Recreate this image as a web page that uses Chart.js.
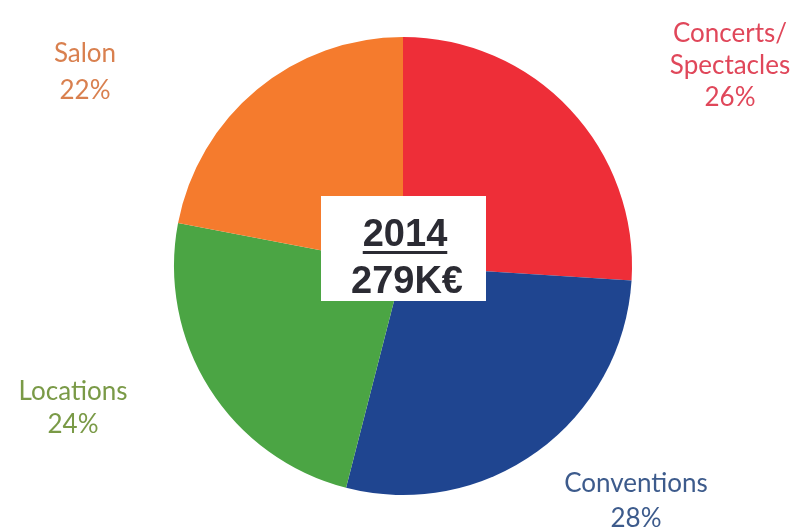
<!DOCTYPE html>
<html>
<head>
<meta charset="utf-8">
<script src="https://cdn.jsdelivr.net/npm/chart.js@4/dist/chart.umd.min.js"></script>
<style>
  html, body { margin: 0; padding: 0; background: #ffffff; }
  #wrap { width: 802px; height: 529px; position: relative; }
</style>
</head>
<body>
<div id="wrap"><canvas id="c" width="802" height="529"></canvas></div>
<script>
// Répartition du chiffre d'affaires 2014 par activité (en %)
const categories = [['Concerts/', 'Spectacles'], ['Conventions'], ['Locations'], ['Salon']];
const shares = [26, 28, 24, 22];
const sliceColors = ['#ee2e38', '#1f4590', '#4ba544', '#f57b2d'];
const labelColors = ['#e0475a', '#3d5b8c', '#7a9a47', '#d9804f'];
// Ancrage (centre, ligne de base de la 1re ligne, interligne) de chaque étiquette
const labelAnchors = [[730, 42, 32], [636, 492, 35], [73, 400, 33], [85, 62, 37]];
const yearLabel = '2014';
const totalLabel = '279K€';

const outerLabels = {
  id: 'outerLabels',
  afterDatasetsDraw(chart) {
    const ctx = chart.ctx;
    const ds = chart.data.datasets[0];
    ctx.save();
    ctx.textAlign = 'center';
    ctx.textBaseline = 'alphabetic';
    ctx.font = '26px Lato, "Open Sans", sans-serif';
    ds.data.forEach((v, i) => {
      const lines = chart.data.labels[i].concat([v + '%']);
      const [x, y, lh] = labelAnchors[i];
      ctx.fillStyle = labelColors[i];
      lines.forEach((t, k) => ctx.fillText(t, x, y + k * lh));
    });
    ctx.restore();
  }
};

const centerBox = {
  id: 'centerBox',
  afterDatasetsDraw(chart) {
    const ctx = chart.ctx;
    const arc = chart.getDatasetMeta(0).data[0];
    const cx = arc.x, cy = arc.y;
    ctx.save();
    ctx.fillStyle = '#ffffff';
    ctx.fillRect(cx - 82, cy - 70, 165, 105);
    ctx.fillStyle = '#2b2b33';
    ctx.textAlign = 'center';
    ctx.textBaseline = 'alphabetic';
    ctx.font = 'bold 38px "Liberation Sans", Arial, sans-serif';
    ctx.fillText(yearLabel, cx + 2, cy - 20);
    const w = ctx.measureText(yearLabel).width;
    ctx.fillRect(cx + 2 - w / 2, cy - 15, w, 3);
    ctx.fillText(totalLabel, cx + 4, cy + 27);
    ctx.restore();
  }
};

new Chart(document.getElementById('c'), {
  type: 'pie',
  data: {
    labels: categories,
    datasets: [{
      data: shares,
      backgroundColor: sliceColors,
      borderWidth: 0,
      hoverOffset: 0
    }]
  },
  options: {
    responsive: false,
    animation: false,
    layout: { padding: { top: 37, bottom: 34, left: 174, right: 170 } },
    plugins: {
      legend: { display: false },
      tooltip: { enabled: false }
    }
  },
  plugins: [outerLabels, centerBox]
});
</script>
</body>
</html>
